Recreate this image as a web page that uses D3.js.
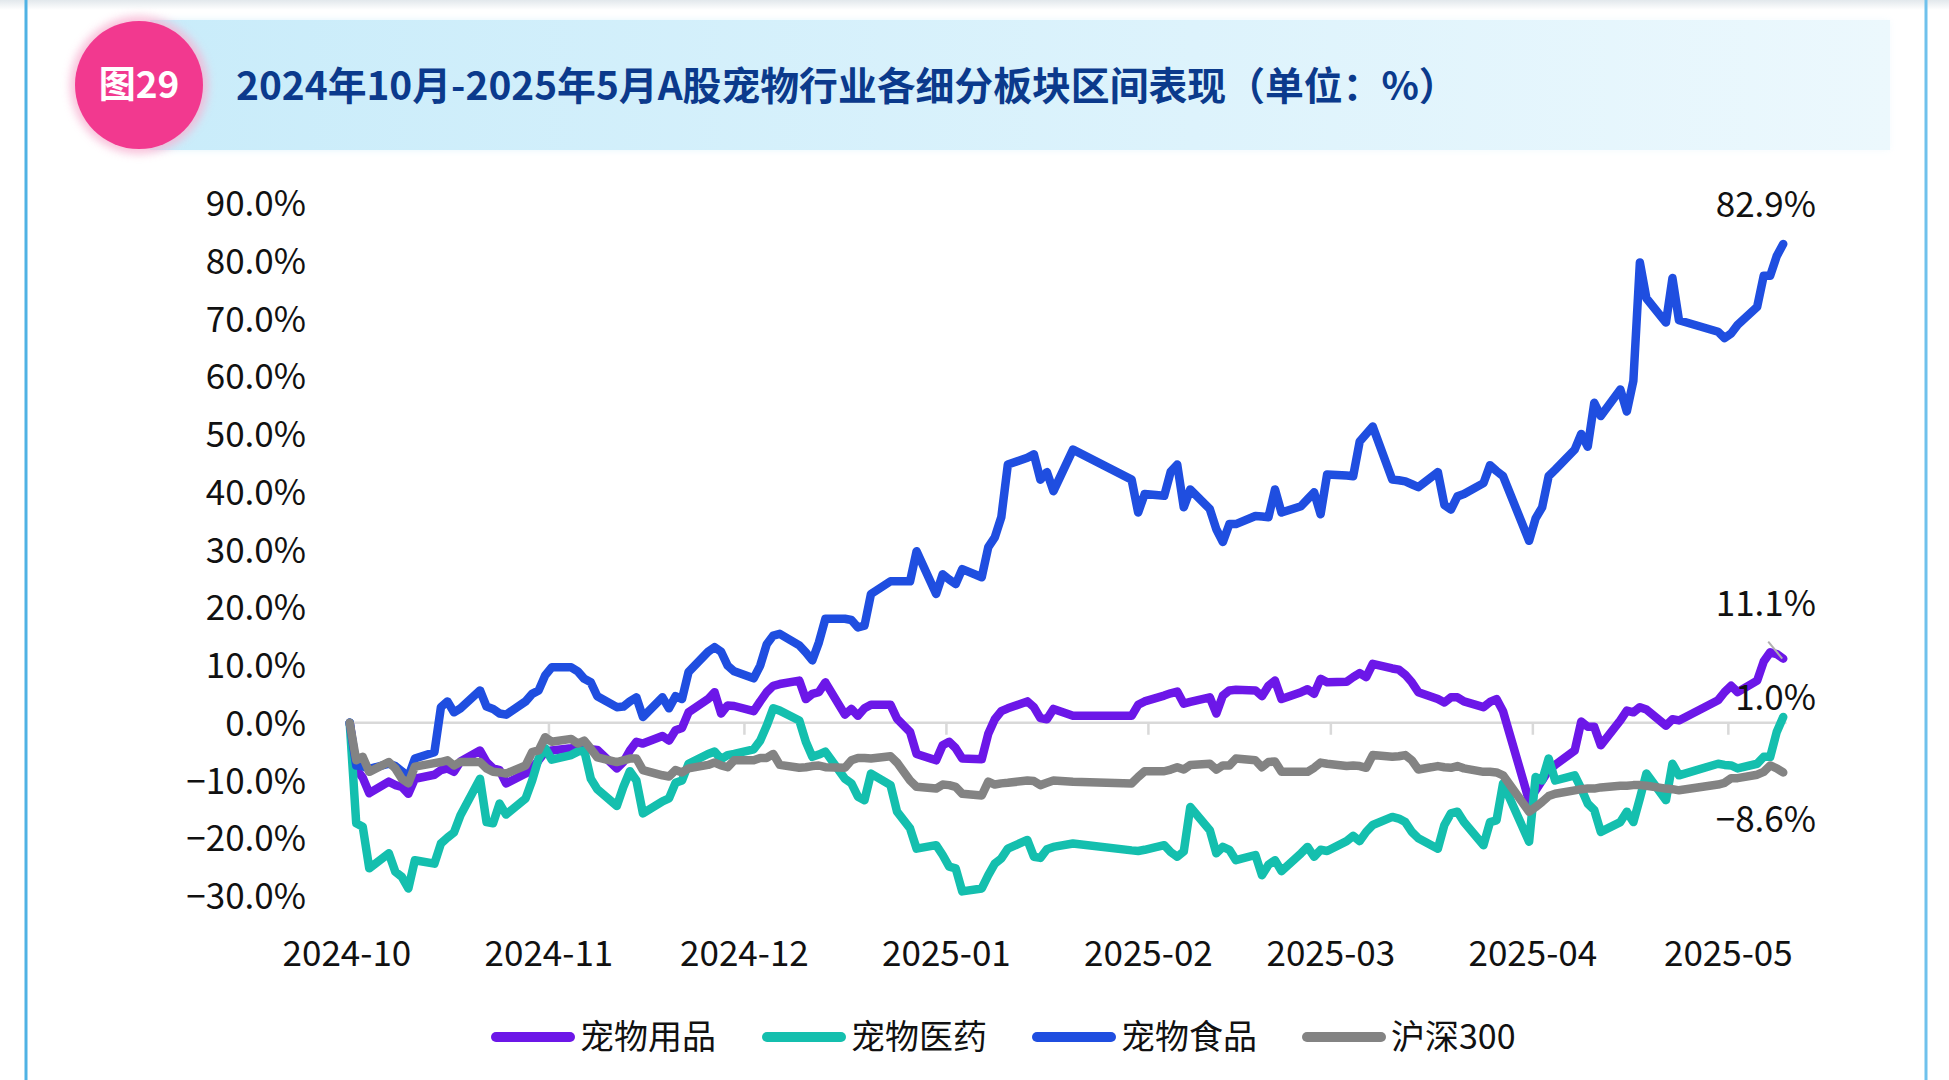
<!DOCTYPE html>
<html><head><meta charset="utf-8">
<script src="https://cdn.jsdelivr.net/npm/d3@7"></script>
<style>
body{margin:0;background:#fff;}
svg{display:block;}
text{font-family:"Noto Sans CJK SC","Noto Sans",sans-serif;}
</style>
</head><body>
<svg id="chart" width="1949" height="1080"></svg>
<script>
// ---------------- DATA ----------------
const dates = [
"2024-10-08","2024-10-09","2024-10-10","2024-10-11","2024-10-14","2024-10-15","2024-10-16","2024-10-17","2024-10-18","2024-10-21","2024-10-22","2024-10-23","2024-10-24","2024-10-25","2024-10-28","2024-10-29","2024-10-30","2024-10-31",
"2024-11-01","2024-11-04","2024-11-05","2024-11-06","2024-11-07","2024-11-08","2024-11-11","2024-11-12","2024-11-13","2024-11-14","2024-11-15","2024-11-18","2024-11-19","2024-11-20","2024-11-21","2024-11-22","2024-11-25","2024-11-26","2024-11-27","2024-11-28","2024-11-29",
"2024-12-02","2024-12-03","2024-12-04","2024-12-05","2024-12-06","2024-12-09","2024-12-10","2024-12-11","2024-12-12","2024-12-13","2024-12-16","2024-12-17","2024-12-18","2024-12-19","2024-12-20","2024-12-23","2024-12-24","2024-12-25","2024-12-26","2024-12-27","2024-12-30","2024-12-31",
"2025-01-02","2025-01-03","2025-01-06","2025-01-07","2025-01-08","2025-01-09","2025-01-10","2025-01-13","2025-01-14","2025-01-15","2025-01-16","2025-01-17","2025-01-20","2025-01-21","2025-01-22","2025-01-23","2025-01-24","2025-01-27",
"2025-02-05","2025-02-06","2025-02-07","2025-02-10","2025-02-11","2025-02-12","2025-02-13","2025-02-14","2025-02-17","2025-02-18","2025-02-19","2025-02-20","2025-02-21","2025-02-24","2025-02-25","2025-02-26","2025-02-27","2025-02-28",
"2025-03-03","2025-03-04","2025-03-05","2025-03-06","2025-03-07","2025-03-10","2025-03-11","2025-03-12","2025-03-13","2025-03-14","2025-03-17","2025-03-18","2025-03-19","2025-03-20","2025-03-21","2025-03-24","2025-03-25","2025-03-26","2025-03-27","2025-03-28","2025-03-31",
"2025-04-01","2025-04-02","2025-04-03","2025-04-07","2025-04-08","2025-04-09","2025-04-10","2025-04-11","2025-04-14","2025-04-15","2025-04-16","2025-04-17","2025-04-18","2025-04-21","2025-04-22","2025-04-23","2025-04-24","2025-04-25","2025-04-28","2025-04-29","2025-04-30",
"2025-05-06","2025-05-07","2025-05-08","2025-05-09","2025-05-12","2025-05-13","2025-05-14","2025-05-15","2025-05-16"
];

// 宠物用品
const petSupplies = [
0,-8.0,-9.5,-12.2,-10.2,-10.8,-11.1,-12.3,-9.7,-9.0,-8.2,-7.9,-8.5,-6.7,-4.8,-6.8,-7.9,-8.2,
-10.5,-8.8,-7.9,-6.5,-5.0,-4.8,-4.4,-4.2,-4.4,-4.6,-4.7,-7.9,-6.8,-4.8,-3.3,-3.6,-2.3,-3.1,-1.3,-0.9,1.8,
4.1,5.3,1.6,3.0,2.9,2.0,3.7,5.3,6.4,6.7,7.3,4.1,5.0,5.3,7.0,1.4,2.4,1.2,2.5,3.1,3.1,0.7,
-1.6,-5.4,-6.5,-3.9,-3.3,-4.4,-6.2,-6.3,-1.9,0.6,2.0,2.5,3.7,2.7,0.8,0.6,2.4,1.2,
1.2,3.1,3.7,4.7,5.1,5.4,3.3,3.6,4.4,1.6,4.7,5.6,5.7,5.6,4.6,6.4,7.3,4.1,
5.3,5.8,5.0,7.6,7.0,7.1,7.9,8.6,7.9,10.2,9.4,9.2,8.3,7.0,5.3,4.1,3.5,4.4,4.4,3.7,2.7,
3.6,4.1,2.0,-13.5,-11.7,-10.0,-8.2,-7.3,-4.8,0.2,-0.7,-0.7,-3.9,0.4,2.1,1.8,2.7,2.3,-0.5,0.6,0.4,
3.9,5.3,6.4,5.3,7.3,10.6,12.2,11.9,11.1
];

// 宠物医药
const petMedicine = [
0,-17.4,-18.0,-25.2,-22.6,-25.8,-26.7,-28.7,-23.8,-24.4,-20.9,-19.9,-19.0,-16.0,-9.7,-17.2,-17.4,-14.0,
-15.9,-13.1,-10.0,-6.2,-4.4,-6.4,-5.6,-5.0,-4.8,-9.7,-11.5,-14.4,-11.1,-8.4,-10.0,-15.7,-13.6,-13.1,-10.4,-10.0,-7.1,
-5.4,-5.0,-6.3,-5.6,-5.4,-4.6,-3.1,-0.5,2.5,2.1,0.4,-3.3,-5.9,-5.5,-5.0,-9.7,-10.5,-12.8,-13.4,-8.8,-10.8,-15.4,
-18.3,-21.8,-21.2,-22.9,-24.9,-25.2,-29.2,-28.7,-26.4,-24.4,-23.5,-21.8,-20.3,-23.2,-23.4,-21.9,-21.5,-20.9,
-22.1,-22.2,-22.0,-21.2,-22.4,-23.2,-22.3,-14.6,-18.6,-22.6,-21.5,-22.0,-23.8,-22.9,-26.4,-24.6,-23.8,-25.7,
-22.6,-21.5,-23.2,-22.0,-22.2,-20.5,-19.6,-20.5,-18.9,-17.7,-16.3,-16.6,-17.2,-18.9,-20.0,-21.8,-17.7,-15.7,-15.4,-17.2,-21.2,
-17.2,-16.9,-10.5,-20.6,-9.4,-10.0,-6.2,-10.0,-9.1,-11.4,-14.0,-15.1,-18.9,-17.2,-15.4,-17.2,-13.1,-8.8,-13.4,-7.1,-9.1,
-7.1,-7.3,-7.4,-7.9,-7.1,-5.9,-5.9,-1.6,1.0
];

// 宠物食品
const petFood = [
0,-7.4,-7.5,-8.0,-7.1,-7.5,-8.4,-9.4,-6.2,-5.1,2.7,3.7,1.8,2.5,5.6,2.8,2.4,1.6,
1.4,3.7,5.0,5.6,8.2,9.6,9.6,8.9,7.6,7.0,4.6,2.7,2.8,3.7,4.4,1.0,4.4,2.5,4.6,4.1,8.8,
12.3,13.1,12.3,9.9,8.9,7.7,9.9,13.6,15.1,15.4,13.4,12.2,10.8,13.9,18.0,18.0,17.8,16.5,16.8,22.3,24.5,24.5,
24.5,29.7,22.3,25.7,24.8,24.0,26.6,25.2,30.4,32.1,35.6,44.7,45.9,46.5,42.1,43.4,40.1,47.3,
42.1,36.4,39.6,39.3,43.5,44.7,37.3,40.4,37.0,33.5,31.3,34.4,34.4,35.8,35.7,35.6,40.4,36.4,
37.5,38.7,39.9,36.1,43.0,42.8,42.7,48.7,50.0,51.3,42.1,42.0,41.8,41.3,40.8,43.4,37.7,36.9,39.2,39.6,41.5,
44.6,43.6,42.7,31.5,35.4,37.3,42.7,43.8,47.3,50.0,47.8,55.4,53.1,57.7,53.9,59.2,79.7,73.5,69.3,77.0,69.7,
67.7,66.6,67.4,68.9,72.0,77.4,77.4,80.8,82.9
];

// 沪深300
const csi300 = [
0,-6.5,-5.9,-8.5,-6.8,-7.9,-9.7,-10.5,-7.6,-7.0,-6.8,-6.5,-7.4,-6.8,-6.8,-7.9,-8.5,-8.6,
-8.8,-7.4,-5.1,-4.8,-2.5,-3.3,-2.8,-3.6,-3.1,-4.5,-6.0,-6.8,-6.5,-6.2,-6.2,-8.2,-9.1,-9.3,-8.2,-8.6,-7.9,
-7.3,-6.9,-7.4,-7.7,-6.5,-6.5,-6.1,-6.1,-5.4,-7.3,-7.8,-7.7,-7.5,-7.4,-7.7,-7.8,-6.5,-6.1,-6.1,-6.2,-5.8,-6.9,
-10.0,-11.1,-11.4,-10.7,-10.8,-11.1,-12.3,-12.6,-10.2,-10.7,-10.5,-10.4,-10.0,-10.1,-10.8,-10.4,-10.0,-10.2,
-10.5,-9.4,-8.4,-8.4,-8.1,-7.7,-8.1,-7.3,-7.1,-8.1,-7.4,-7.4,-6.2,-6.5,-7.7,-6.8,-6.7,-8.5,
-8.5,-8.5,-7.8,-6.9,-7.1,-7.5,-7.4,-7.5,-7.8,-5.6,-5.9,-5.8,-5.6,-6.5,-8.1,-7.5,-7.7,-7.8,-7.5,-7.9,-8.5,
-8.5,-8.6,-9.1,-15.4,-14.6,-13.7,-12.7,-12.3,-11.7,-11.5,-11.4,-11.4,-11.2,-10.9,-10.9,-10.8,-10.8,-10.9,-11.4,-11.5,-11.7,
-10.7,-10.4,-9.6,-9.6,-9.0,-8.5,-7.4,-7.9,-8.6
];

const seriesNames = ["宠物用品","宠物医药","宠物食品","沪深300"];
const xTickLabels = ["2024-10","2024-11","2024-12","2025-01","2025-02","2025-03","2025-04","2025-05"];
const yTickValues = [90,80,70,60,50,40,30,20,10,0,-10,-20,-30];
const titleText = "2024年10月-2025年5月A股宠物行业各细分板块区间表现（单位：%）";
const badgeText = "图29";

// ---------------- STYLE ----------------
const colors = ["#6c17e8","#14bfae","#1f4ee0","#838383"];
const endLabelDy = [-55, -20, -40, 47];   // offset of end-value label from last point
const FONT = 35;

const svg = d3.select("#chart");
const parse = d3.timeParse("%Y-%m-%d");
const series = [petSupplies, petMedicine, petFood, csi300].map((vals, i) => ({
  name: seriesNames[i], color: colors[i],
  points: vals.map((v, j) => ({date: parse(dates[j]), v}))
}));

const x = d3.scaleTime()
  .domain([parse("2024-10-08"), parse("2025-05-08")])
  .range([349.7, 1731.1]);
const y = d3.scaleLinear().domain([-30, 90]).range([896, 203]);

// ---------- background / frame ----------
const defs = svg.append("defs");
svg.append("rect").attr("width",1949).attr("height",1080).attr("fill","#ffffff");
const topG = defs.append("linearGradient").attr("id","topg").attr("x1",0).attr("y1",0).attr("x2",0).attr("y2",1);
topG.append("stop").attr("offset","0%").attr("stop-color","#e2e8ec");
topG.append("stop").attr("offset","100%").attr("stop-color","#ffffff");
svg.append("rect").attr("x",0).attr("y",0).attr("width",1949).attr("height",10).attr("fill","url(#topg)");

const blur = defs.append("filter").attr("id","blur").attr("x","-50%").attr("y","-50%").attr("width","200%").attr("height","200%");
blur.append("feGaussianBlur").attr("stdDeviation",4);
const blur2 = defs.append("filter").attr("id","blur2").attr("x","-20%").attr("y","-50%").attr("width","140%").attr("height","200%");
blur2.append("feGaussianBlur").attr("stdDeviation",3);

svg.append("line").attr("x1",26).attr("x2",26).attr("y1",0).attr("y2",1080)
  .attr("stroke","#4fb2e4").attr("stroke-width",3);
svg.append("line").attr("x1",1927).attr("x2",1927).attr("y1",0).attr("y2",1080)
  .attr("stroke","#bfe3f6").attr("stroke-width",10).attr("filter","url(#blur)");
svg.append("line").attr("x1",1926).attr("x2",1926).attr("y1",0).attr("y2",1080)
  .attr("stroke","#6fc1ec").attr("stroke-width",3);

// header band
const hg = defs.append("linearGradient").attr("id","hg").attr("x1",0).attr("x2",1).attr("y1",0).attr("y2",0);
hg.append("stop").attr("offset","0%").attr("stop-color","#c9ecfa");
hg.append("stop").attr("offset","60%").attr("stop-color","#ddf3fc");
hg.append("stop").attr("offset","100%").attr("stop-color","#ecf8fd");
svg.append("rect").attr("x",150).attr("y",20).attr("width",1740).attr("height",130)
  .attr("fill","url(#hg)").attr("filter","url(#blur2)").attr("opacity",0.6);
svg.append("rect").attr("x",150).attr("y",20).attr("width",1740).attr("height",130).attr("fill","url(#hg)");

// badge
svg.append("circle").attr("cx",139).attr("cy",85).attr("r",69).attr("fill","#f7b3d2").attr("filter","url(#blur)").attr("opacity",0.8);
svg.append("circle").attr("cx",139).attr("cy",85).attr("r",64).attr("fill","#f2398f");
svg.append("text").attr("x",139).attr("y",85).attr("dy","0.36em").attr("text-anchor","middle")
  .attr("fill","#ffffff").attr("font-weight","bold").attr("font-size",37).text(badgeText);

// title
const title = svg.append("text").attr("x",236).attr("y",100)
  .attr("fill","#0b3a8c").attr("font-weight","bold").attr("font-size",38).text(titleText);
const tw = title.node().getComputedTextLength();
title.attr("font-size", 38 * 1222 / tw);

// ---------- axes ----------
const first = series[0].points[0].date, last = series[0].points[dates.length-1].date;
const zeroY = y(0);
svg.append("line")
  .attr("x1", x(d3.timeHour.offset(first,-12))).attr("x2", x(d3.timeHour.offset(last,12)))
  .attr("y1", zeroY).attr("y2", zeroY).attr("stroke","#d9d9d9").attr("stroke-width",2.5);

const tickDates = xTickLabels.map(s => d3.timeHour.offset(parse(s + "-08"), -12));
const fmtMonth = d3.timeFormat("%Y-%m");

const xTicks = svg.append("g").attr("transform",`translate(0,${zeroY})`)
  .call(d3.axisBottom(x).tickValues(tickDates.slice(1)).tickSize(12).tickFormat(""));
xTicks.select(".domain").remove();
xTicks.selectAll(".tick line").attr("stroke","#d9d9d9").attr("stroke-width",2.5);

const xLab = svg.append("g").attr("transform",`translate(0,953)`)
  .call(d3.axisBottom(x).tickValues(tickDates).tickSize(0).tickPadding(0)
    .tickFormat(d => fmtMonth(d3.timeHour.offset(d,12))));
xLab.select(".domain").remove();
xLab.selectAll(".tick text").attr("dy","0.36em").attr("font-size",FONT)
  .attr("font-family",'"Noto Sans CJK SC",sans-serif').attr("fill","#111");

const fmtPct = v => d3.format(".1f")(v) + "%";
const yAx = svg.append("g").attr("transform","translate(306,0)")
  .call(d3.axisLeft(y).tickValues(yTickValues).tickSize(0).tickPadding(0).tickFormat(fmtPct));
yAx.select(".domain").remove();
yAx.selectAll(".tick text").attr("dy","0.36em").attr("font-size",FONT)
  .attr("font-family",'"Noto Sans CJK SC",sans-serif').attr("fill","#111");

// ---------- lines ----------
const line = d3.line().x(d => x(d.date)).y(d => y(d.v));
svg.append("g").selectAll("path").data(series).join("path")
  .attr("d", d => line(d.points))
  .attr("fill","none").attr("stroke", d => d.color)
  .attr("stroke-width",8.5).attr("stroke-linejoin","round").attr("stroke-linecap","round");

// leader line for 宠物用品 label
const lp = series[0].points[dates.length-1];
svg.append("line").attr("x1", x(lp.date)-1).attr("y1", y(lp.v))
  .attr("x2", x(lp.date)-15).attr("y2", y(lp.v)-17)
  .attr("stroke","#b0b0b0").attr("stroke-width",2);

// end labels
svg.append("g").selectAll("text").data(series).join("text")
  .attr("x", 1816)
  .attr("y", (d,i) => y(d.points[d.points.length-1].v) + endLabelDy[i])
  .attr("dy","0.36em").attr("text-anchor","end").attr("font-size",FONT).attr("fill","#111")
  .text(d => fmtPct(d.points[d.points.length-1].v));

// ---------- legend ----------
const legendX = [496, 767, 1037, 1307];
const lg = svg.append("g").selectAll("g").data(series).join("g")
  .attr("transform", (d,i) => `translate(${legendX[i]},1037)`);
lg.append("line").attr("x1",0).attr("x2",74).attr("y1",0).attr("y2",0)
  .attr("stroke", d => d.color).attr("stroke-width",10).attr("stroke-linecap","round");
lg.append("text").attr("x",84).attr("y",0).attr("dy","0.36em").attr("font-size",34).attr("fill","#111")
  .text(d => d.name);
</script>
</body></html>
